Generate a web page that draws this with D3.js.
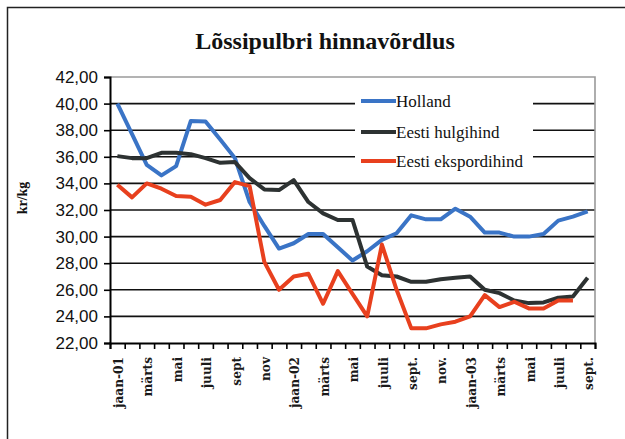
<!DOCTYPE html>
<html>
<head>
<meta charset="utf-8">
<script src="https://cdn.jsdelivr.net/npm/d3@7"></script>
<style>
  html, body { margin: 0; padding: 0; background: #fff; }
  svg { display: block; }
</style>
</head>
<body>
<svg id="chart" width="625" height="439"></svg>
<script>
// ---- data ----
const months = [
  "jaan-01","veebr-01","märts-01","apr-01","mai-01","juuni-01","juuli-01","aug-01","sept-01","okt-01","nov-01","dets-01",
  "jaan-02","veebr-02","märts-02","apr-02","mai-02","juuni-02","juuli-02","aug-02","sept-02","okt-02","nov-02","dets-02",
  "jaan-03","veebr-03","märts-03","apr-03","mai-03","juuni-03","juuli-03","aug-03","sept-03"
];
const tickLabels = ["jaan-01","märts","mai","juuli","sept","nov","jaan-02","märts","mai","juuli","sept.","nov.","jaan-03","märts","mai","juuli","sept."];
const yTicks = [22,24,26,28,30,32,34,36,38,40,42];

const holland = [40.0,37.7,35.4,34.6,35.3,38.7,38.65,37.3,35.9,32.6,30.8,29.1,
                 29.5,30.2,30.2,29.2,28.2,28.9,29.75,30.25,31.6,31.3,31.3,32.1,
                 31.5,30.3,30.3,30.0,30.0,30.2,31.2,31.5,31.9];
const hulgihind = [36.05,35.9,35.9,36.3,36.3,36.2,35.9,35.55,35.6,34.4,33.55,33.5,
                   34.25,32.6,31.75,31.25,31.25,27.75,27.1,27.0,26.6,26.6,26.8,26.9,
                   27.0,26.0,25.75,25.2,25.0,25.05,25.4,25.5,26.9];
const ekspordihind = [33.9,32.95,34.0,33.6,33.05,33.0,32.4,32.75,34.1,33.8,28.1,26.0,
                      27.0,27.2,24.95,27.4,25.7,24.0,29.4,26.0,23.1,23.1,23.4,23.6,
                      24.0,25.6,24.7,25.1,24.6,24.6,25.2,25.2,null];
const seriesNames = ["Holland","Eesti hulgihind","Eesti ekspordihind"];
const seriesColors = ["#3a74c6","#2d3232","#e8401e"];

// ---- chart ----
const svg = d3.select("#chart");
const L = 110, R = 595, T = 77, B = 343;

const xb = d3.scaleLinear().domain([0, months.length]).range([L, R]);
const y = d3.scaleLinear().domain([22, 42]).range([B, T]);

// outer frame (left & top visible)
svg.append("path")
  .attr("d", `M7.5,439 L7.5,7.5 L625,7.5`)
  .attr("fill","none").attr("stroke","#222").attr("stroke-width",1.5);

// gridlines
svg.append("g").selectAll("line")
  .data(yTicks.filter(v => v > 22 && v < 42))
  .join("line")
  .attr("x1", L).attr("x2", R)
  .attr("y1", d => y(d)).attr("y2", d => y(d))
  .attr("stroke", "#111").attr("stroke-width", 1.6);

// plot border top & right (grey)
svg.append("path")
  .attr("d", `M${L},${y(42)} L${R},${y(42)} L${R},${B}`)
  .attr("fill","none").attr("stroke","#9a9a9a").attr("stroke-width",1.6);

// legend background (covers gridlines)
svg.append("rect")
  .attr("x", 355).attr("y", 86).attr("width", 178).attr("height", 88)
  .attr("fill", "#fff");

// y axis
const yAxis = svg.append("g")
  .attr("transform", `translate(${L},0)`)
  .call(d3.axisLeft(y).tickValues(yTicks).tickSize(6).tickPadding(6)
        .tickFormat(d => d.toFixed(2).replace(".", ",")));
yAxis.select(".domain").attr("stroke","#000").attr("stroke-width",2);
yAxis.selectAll(".tick line").attr("stroke","#000").attr("stroke-width",1.6);
yAxis.selectAll(".tick text")
  .attr("font-family","'Liberation Sans', Arial, sans-serif")
  .attr("font-size", 17).attr("fill","#111");

// x axis
const xAxis = svg.append("g")
  .attr("transform", `translate(0,${B})`)
  .call(d3.axisBottom(xb).tickValues(d3.range(months.length + 1)).tickSize(6).tickFormat(""));
xAxis.select(".domain").attr("stroke","#000").attr("stroke-width",2);
xAxis.selectAll(".tick line").attr("stroke","#000").attr("stroke-width",1.6);

// x labels (every other month)
svg.append("g").selectAll("text")
  .data(tickLabels)
  .join("text")
  .attr("transform", (d, k) => `translate(${xb(k * 2 + 0.5) + 1},357) rotate(-90)`)
  .attr("text-anchor", "end")
  .attr("dy", "0.35em")
  .attr("font-family", "'DejaVu Serif Condensed', 'DejaVu Serif', serif")
  .attr("font-stretch", "condensed")
  .attr("font-weight", "bold")
  .attr("font-size", 13.5)
  .attr("fill", "#1a1a1a")
  .text(d => d);

// lines
const allSeries = [holland, hulgihind, ekspordihind];
const line = d3.line()
  .defined(d => d != null)
  .x((d, i) => xb(i + 0.5))
  .y(d => y(d));
svg.append("g").selectAll("path")
  .data(allSeries)
  .join("path")
  .attr("d", d => line(d))
  .attr("fill", "none")
  .attr("stroke", (d, i) => seriesColors[i])
  .attr("stroke-width", 4)
  .attr("stroke-linejoin", "round");

// legend
const legY = [101, 132, 161];
const leg = svg.append("g");
seriesNames.forEach((name, i) => {
  leg.append("line")
    .attr("x1", 361).attr("x2", 396)
    .attr("y1", legY[i]).attr("y2", legY[i])
    .attr("stroke", seriesColors[i]).attr("stroke-width", 4);
  leg.append("text")
    .attr("x", 396).attr("y", legY[i]).attr("dy", "0.35em")
    .attr("font-family", "'Liberation Serif', 'Times New Roman', serif")
    .attr("font-size", 17).attr("fill", "#111")
    .text(name);
});

// title
svg.append("text")
  .attr("x", 325).attr("y", 49)
  .attr("text-anchor", "middle")
  .attr("font-family", "'Liberation Serif', 'Times New Roman', serif")
  .attr("font-weight", "bold").attr("font-size", 24).attr("fill", "#111")
  .text("Lõssipulbri hinnavõrdlus");

// y label
svg.append("text")
  .attr("transform", "translate(22,198) rotate(-90)")
  .attr("text-anchor", "middle").attr("dy", "0.35em")
  .attr("font-family", "'Liberation Serif', 'Times New Roman', serif")
  .attr("font-weight", "bold").attr("font-size", 14).attr("fill", "#111")
  .text("kr/kg");
</script>
</body>
</html>
